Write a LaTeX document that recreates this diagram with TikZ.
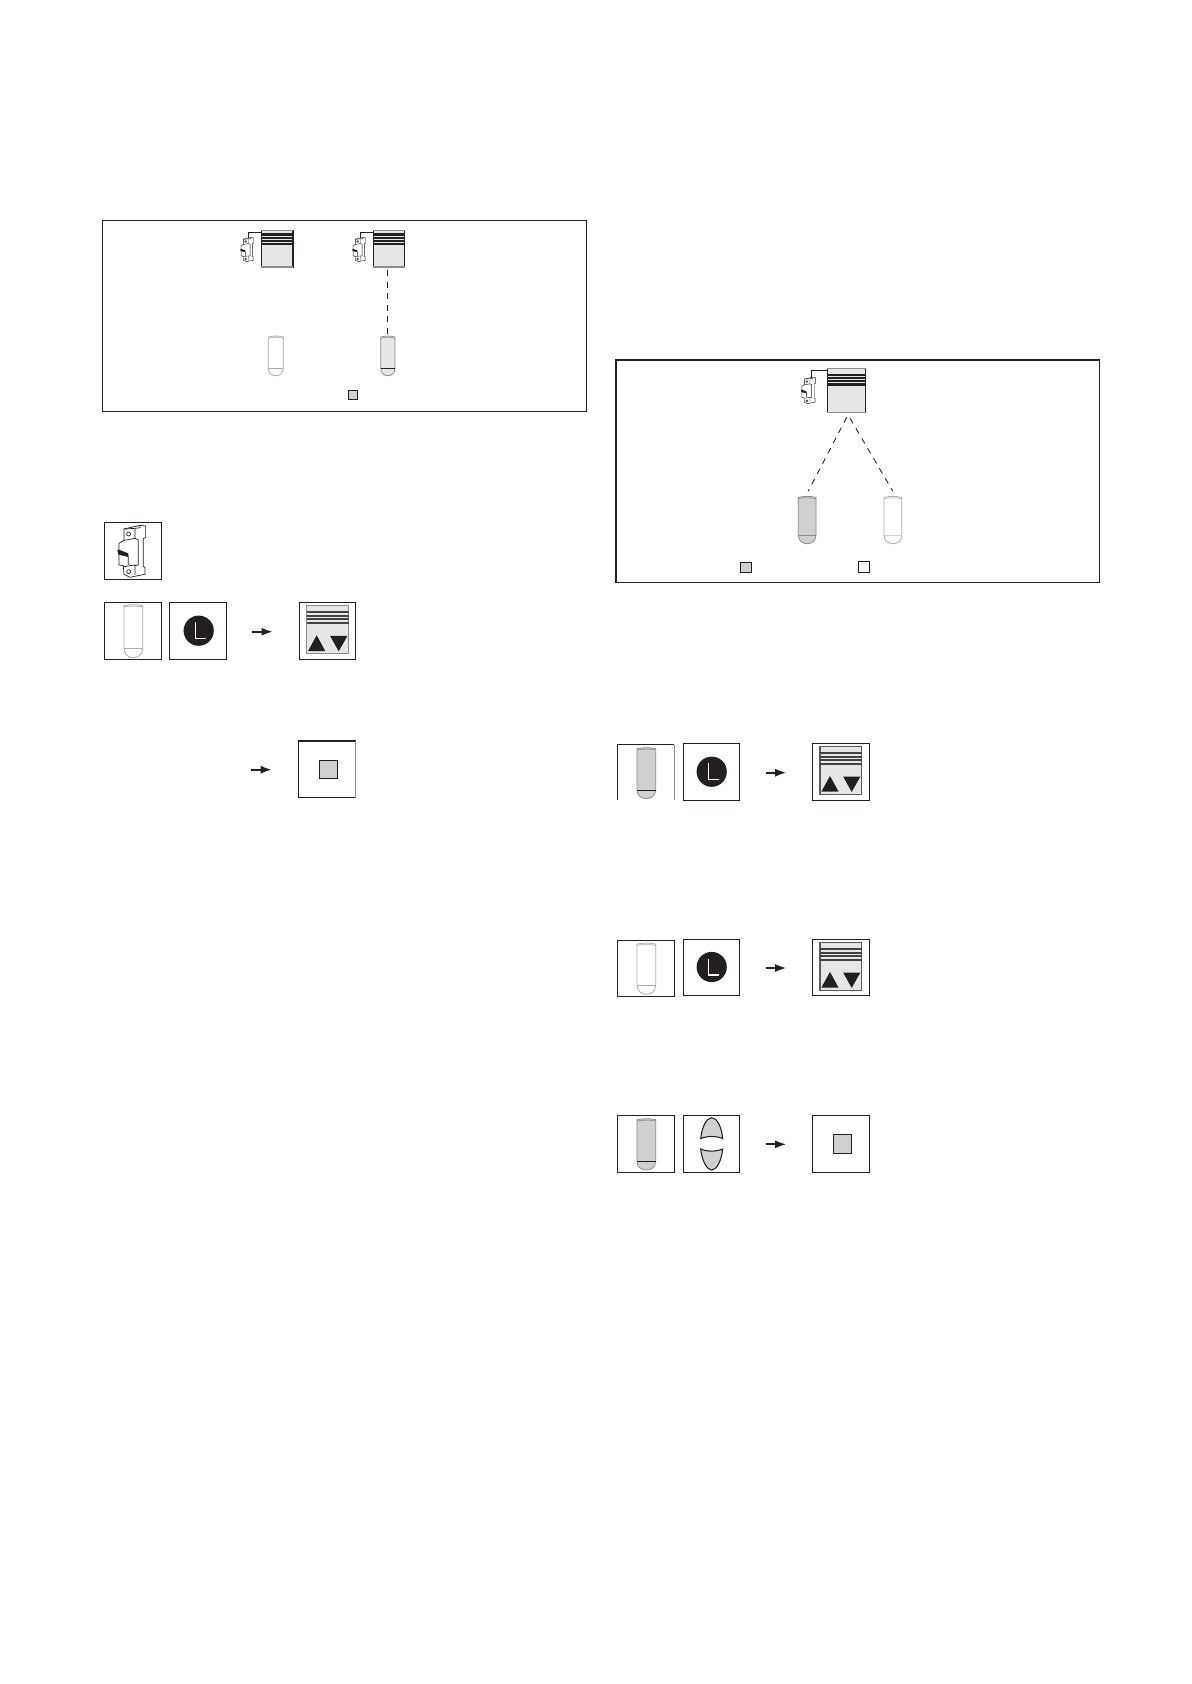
\documentclass[tikz,border=0pt]{standalone}
\usetikzlibrary{arrows.meta,calc}
\definecolor{ink}{HTML}{231F20}
\definecolor{midgrey}{HTML}{D0D0D0}
\definecolor{palegrey}{HTML}{E6E6E6}
\definecolor{edgegrey}{HTML}{8C8C8C}
\definecolor{softgrey}{HTML}{ABABAB}
\definecolor{darkgrey}{HTML}{5A5A5A}
\tikzset{
  framebox/.style={draw=ink,line width=0.65pt,fill=white,inner sep=0pt,outer sep=0pt,rectangle},
  iconbox/.style={draw=ink,line width=0.6pt,fill=white,inner sep=0pt,outer sep=0pt,rectangle},
  swatch/.style={draw=ink,line width=0.55pt,inner sep=0pt,outer sep=0pt,rectangle},
  wirelink/.style={draw=ink,line width=0.55pt},
  radiolink/.style={draw=ink,line width=0.5pt,dash pattern=on 3.4pt off 3.2pt},
  flowarrow/.style={draw=ink,line width=1.15pt,-{Latex[length=6.5pt,width=4.6pt]}},
}
% box from corners: name, x1,y1,x2,y2
\newcommand{\boxat}[6][iconbox]{%
  \node[#1,minimum width=#5*0.567pt-#3*0.567pt,minimum height=#6*0.567pt-#4*0.567pt] (#2) at ({(#3+#5)/2},{(#4+#6)/2}) {};}
% remote: x1,y1,x2,y2,fill,outline,bandY,bandcolour
\newcommand{\remotefig}[8]{%
  \pgfmathsetmacro{\rmx}{(#1+#3)/2}%
  \draw[draw=#6,fill=#5,line width=0.45pt] (#1,#2+1.4) .. controls (\rmx-3,#2) and (\rmx+3,#2) .. (#3,#2+1.4)
    -- (#3,#7) .. controls (#3,#4-2.5) and (\rmx+4,#4) .. (\rmx,#4) .. controls (\rmx-4,#4) and (#1,#4-2.5) .. (#1,#7) -- cycle;
  \draw[draw=#6,line width=0.35pt] (#1,#2+2.6) .. controls (\rmx-3,#2+1.6) and (\rmx+3,#2+1.6) .. (#3,#2+2.6);
  \draw[draw=#8,line width=0.55pt] (#1,#7) -- (#3,#7);}
% breaker: x,y,scale,line width
\newcommand{\breakerfig}[4]{%
  \begin{scope}[shift={(#1,#2)},scale=#3,line width=#4,draw=ink]
    \draw[fill=white] (20,12) -- (68,1) -- (85,3) -- (85,38) -- (78,40) -- (78,125) -- (83,127) -- (83,148) -- (38,157) -- (20,148) -- (18,122) -- (5,120) -- (5,55) -- (20,46) -- cycle;
    \draw (20,12) -- (53,10) -- (53,40) -- (20,46);
    \draw (53,10) -- (68,8) -- (68,1);
    \draw (53,40) -- (63,45) -- (63,120) -- (53,122);
    \draw (20,125) -- (53,120) -- (53,150);
    \draw (5,88) -- (33,95) -- (33,120);
    \draw (34,27) circle (6);
    \draw (34,140) circle (6);
    \fill[ink] (0,75) -- (4,74) -- (33,85) -- (33,95) -- (3,88) -- cycle;
  \end{scope}}
% shutter tile in the panels
\newcommand{\shuttertile}[6]{% name x1 y1 x2 y2 stripe start
  \node[draw=ink,line width=0.65pt,fill=palegrey,inner sep=0pt,outer sep=0pt,rectangle,minimum width=#4*0.567pt-#2*0.567pt,minimum height=#5*0.567pt-#3*0.567pt] (#1) at ({(#2+#4)/2},{(#3+#5)/2}) {};
  \draw[edgegrey,line width=0.6pt] (#2,#5) -- (#4,#5) (#2,#3) -- (#4,#3);
  \foreach \q in {0,...,3} {\fill[ink] (#2,#6+\q*3.25) rectangle (#4,#6+\q*3.25+2.3);}}
% control tile: x1,x2,y1,y2 of inner shutter, stripes start, edge colour
\newcommand{\controlfig}[6]{%
  \draw[draw=#6,fill=palegrey,line width=0.8pt] (#1,#3) rectangle (#2,#4);
  \foreach \q in {0,...,3} {\fill[ink!85] (#1,#5+\q*3.8) rectangle (#2,#5+\q*3.8+2);}
  \fill[ink] (#1+1.3,#4-2.6) -- (#1+18.6,#4-2.6) -- (#1+10,#4-18.4) -- cycle;
  \fill[ink] (#2-18.6,#4-17.8) -- (#2-1.3,#4-17.8) -- (#2-10,#4-2.4) -- cycle;}
\newcommand{\clocktile}[3]{% name cx cy
  \node[fill=ink,circle,inner sep=0pt,outer sep=0pt,minimum size=17.2pt] (#1) at (#2,#3) {};
  \draw[white,line width=0.7pt] (#2-3.4,#3-8.4) -- (#2-3.4,#3+8) -- (#2+7,#3+8);}
\begin{document}
\begin{tikzpicture}[x=0.02cm,y=-0.02cm]
\useasboundingbox (0,0) rectangle (1191,1684);
\fill[white] (0,0) rectangle (1191,1684);

% ---------- upper left panel
\boxat[framebox]{panelA}{102}{220.5}{587}{411.7}
\shuttertile{shutA}{261.3}{230.5}{293}{267}{233.3}
\shuttertile{shutB}{373.3}{230.5}{404.7}{267}{233.3}
\breakerfig{240.3}{237.3}{0.155}{0.25pt}
\breakerfig{352.3}{237.3}{0.155}{0.25pt}
\coordinate (brkA) at (248.3,238);
\coordinate (brkB) at (360.3,238);
\coordinate (shutAin) at (shutA.west |- 0,232.5);
\coordinate (shutBin) at (shutB.west |- 0,232.5);
\draw[wirelink] (brkA) |- (shutAin);
\draw[wirelink] (brkB) |- (shutBin);
\remotefig{268.3}{335.7}{283.3}{375.7}{white}{softgrey}{368}{softgrey}
\remotefig{380.7}{335.7}{395}{375.7}{palegrey}{edgegrey}{368}{ink}
\coordinate (remBtop) at (387.7,334);
\coordinate (shutBbot) at (387.7,270);
\draw[radiolink] (shutBbot) -- (remBtop);
\boxat[swatch,fill=midgrey]{swA}{348.3}{390.4}{357.7}{399.7}

% ---------- left icon column
\boxat{bBreaker}{104.3}{522.5}{161.3}{579.3}
\breakerfig{117.3}{525}{0.333}{0.4pt}
\boxat{bRemL}{104.3}{602.5}{161.3}{659.3}
\remotefig{124}{604.3}{142.7}{657.7}{white}{softgrey}{648.3}{softgrey}
\boxat{bClockL}{169.3}{602.5}{226.7}{659.3}
\clocktile{clockL}{198.7}{630.7}
\coordinate (arrL1a) at (252,631.7); \coordinate (arrL1b) at (273,631.7);
\draw[flowarrow] (arrL1a) -- (arrL1b);
\boxat{bCtlL}{299.3}{602.5}{355.7}{659.3}
\controlfig{306.7}{348.7}{605.7}{653.7}{610.7}{edgegrey}
\boxat{bStopL}{298.3}{740.7}{355.3}{797.7}
\draw[ink,line width=1.2pt] (298,740.7) -- (355.6,740.7);
\draw[edgegrey,line width=0.6pt] (355.3,740.7) -- (355.3,797.7);
\boxat[swatch,fill=midgrey]{swStopL}{319.3}{760.3}{337.7}{778.7}
\coordinate (arrL2a) at (251,769.7); \coordinate (arrL2b) at (272,769.7);
\draw[flowarrow] (arrL2a) -- (arrL2b);

% ---------- right panel
\boxat[framebox]{panelB}{615}{359.5}{1100}{582.7}
\shuttertile{shutC}{827.3}{368.5}{865.7}{412.7}{373.5}
\breakerfig{801}{377}{0.17}{0.25pt}
\coordinate (brkC) at (811.3,378);
\coordinate (shutCin) at (shutC.west |- 0,370.5);
\draw[wirelink] (brkC) |- (shutCin);
\remotefig{798.3}{496}{816}{543.7}{midgrey}{edgegrey}{535.3}{edgegrey}
\remotefig{884}{496}{901.7}{543.7}{white}{softgrey}{535.3}{midgrey}
\coordinate (linkC) at (846.7,417.3);
\coordinate (linkD) at (850,418.3);
\coordinate (remCtop) at (808.3,491);
\coordinate (remDtop) at (892.7,491);
\draw[radiolink] (linkC) -- (remCtop);
\draw[radiolink] (linkD) -- (remDtop);
\boxat[swatch,fill=midgrey]{swB}{740.4}{562.4}{751.7}{572.7}
\boxat[swatch,fill=white]{swC}{858.4}{561.3}{869.7}{572.4}

% ---------- right row 1
\draw[ink,line width=0.6pt] (617.3,800) -- (617.3,744.5) -- (674.3,744.5);
\draw[edgegrey,line width=0.6pt] (674.3,744.5) -- (674.3,800);
\remotefig{637}{747.3}{655.7}{798.7}{midgrey}{edgegrey}{790}{ink}
\boxat{bClock1}{683.3}{743.5}{739.3}{800.3}
\clocktile{clock1}{711.7}{771.7}
\coordinate (arr1a) at (765.7,772.7); \coordinate (arr1b) at (786.5,772.7);
\draw[flowarrow] (arr1a) -- (arr1b);
\boxat{bCtl1}{812.3}{743.5}{869.3}{800.3}
\controlfig{820}{861.7}{746.7}{794.3}{751.7}{darkgrey}

% ---------- right row 2
\boxat{bRem2}{617.3}{940.5}{674.3}{996.3}
\remotefig{637}{942.7}{655.7}{994.3}{white}{softgrey}{985}{softgrey}
\boxat{bClock2}{683.3}{939.5}{739.3}{995.3}
\clocktile{clock2}{711.7}{967}
\coordinate (arr2a) at (765.7,968); \coordinate (arr2b) at (786.5,968);
\draw[flowarrow] (arr2a) -- (arr2b);
\boxat{bCtl2}{812.3}{939.5}{869.3}{995.3}
\controlfig{820}{861.7}{942.3}{990.3}{947.7}{darkgrey}

% ---------- right row 3
\boxat{bRem3}{617.3}{1115.5}{674.3}{1172.3}
\remotefig{637}{1118.3}{655.7}{1170}{midgrey}{edgegrey}{1161.3}{ink}
\boxat{bPetal}{683.3}{1115.5}{739.3}{1172.3}
\draw[draw=ink,fill=midgrey,line width=0.6pt] (700.7,1138.5) .. controls (702,1126) and (707,1117.7) .. (711.7,1117.7) .. controls (716.5,1117.7) and (721.5,1126) .. (722.7,1138.5) .. controls (716,1135.8) and (707,1135.8) .. (700.7,1138.5) -- cycle;
\draw[draw=ink,fill=midgrey,line width=0.6pt] (700.7,1149) .. controls (707,1151.8) and (716,1151.8) .. (722.7,1149) .. controls (721.5,1161) and (716.5,1170) .. (711.7,1170) .. controls (707,1170) and (702,1161) .. (700.7,1149) -- cycle;
\coordinate (arr3a) at (765.7,1144.3); \coordinate (arr3b) at (786.5,1144.3);
\draw[flowarrow] (arr3a) -- (arr3b);
\boxat{bStop3}{812.3}{1115.5}{869.3}{1172.3}
\boxat[swatch,fill=midgrey]{swStop3}{833.3}{1134.4}{851.7}{1153.7}
\end{tikzpicture}
\end{document}
